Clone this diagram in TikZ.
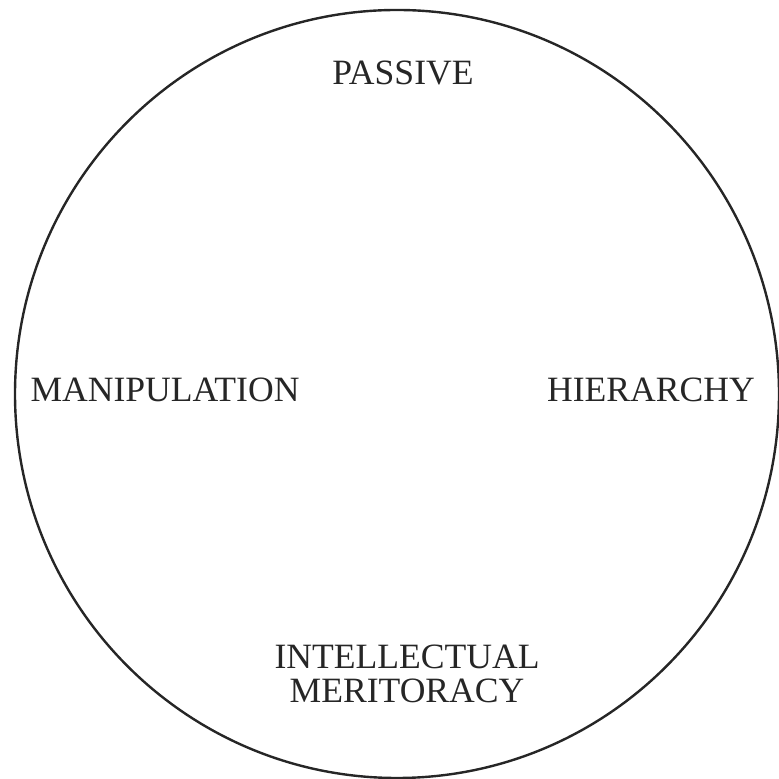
\documentclass[tikz,border=0pt]{standalone}
\usepackage{fontspec}
\setmainfont{Liberation Serif}
\usepackage{tikz}

\begin{document}
\begin{tikzpicture}[x=0.5pt, y=0.5pt,
                    lbl/.style={font=\fontsize{17.8}{16.8}\selectfont, text=black!85, align=center, inner sep=0pt}]
                    \useasboundingbox (0,0) rectangle (778,779);
                    \draw[line width=1.2pt, black!85] (397,385) ellipse [x radius=382, y radius=384];

                    \node[lbl] (passive) at (403,706) {PASSIVE};
                    \node[lbl] (manip) at (165,389) {MANIPULATION};
                    \node[lbl] (hier) at (651,389) {HIERARCHY};
                    \node[lbl] (intel) at (407,105) {INTELLECTUAL\\MERITORACY};
                \end{tikzpicture}
\end{document}
